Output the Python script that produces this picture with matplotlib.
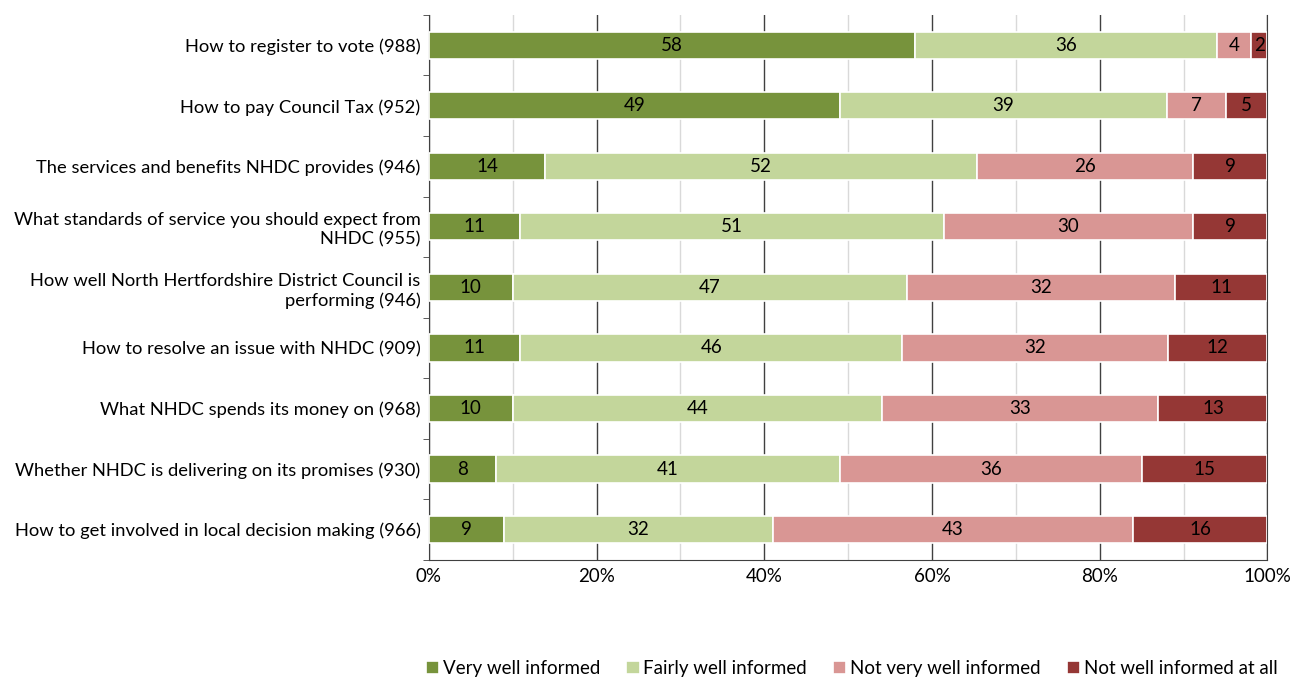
import numpy as np
import matplotlib.pyplot as plt

plt.rcParams['font.family'] = ['Lato', 'DejaVu Sans']

categories = [
    "How to register to vote (988)",
    "How to pay Council Tax (952)",
    "The services and benefits NHDC provides (946)",
    "What standards of service you should expect from\nNHDC (955)",
    "How well North Hertfordshire District Council is\nperforming (946)",
    "How to resolve an issue with NHDC (909)",
    "What NHDC spends its money on (968)",
    "Whether NHDC is delivering on its promises (930)",
    "How to get involved in local decision making (966)",
]
very_well = [58, 49, 14, 11, 10, 11, 10, 8, 9]
fairly_well = [36, 39, 52, 51, 47, 46, 44, 41, 32]
not_very = [4, 7, 26, 30, 32, 32, 33, 36, 43]
not_at_all = [2, 5, 9, 9, 11, 12, 13, 15, 16]

series = [very_well, fairly_well, not_very, not_at_all]
names = ["Very well informed", "Fairly well informed",
         "Not very well informed", "Not well informed at all"]
colors = ["#77933C", "#C3D69B", "#D99694", "#953735"]

data = np.array(series, dtype=float)
pct = data / data.sum(axis=0) * 100

fig = plt.figure(figsize=(12.92, 6.77), dpi=100)
ax = fig.add_axes([0.332, 0.173, 0.649, 0.805])

y = np.arange(len(categories))
left = np.zeros(len(categories))
for vals, p, name, c in zip(series, pct, names, colors):
    bars = ax.barh(y, p, left=left, height=0.45, color=c, edgecolor='white',
                   linewidth=1.2, label=name, zorder=3)
    ax.bar_label(bars, labels=[str(v) for v in vals], label_type='center',
                 fontsize=13.5, color='black')
    left += p

ax.set_xlim(0, 100)
ax.set_ylim(len(categories) - 0.5, -0.5)
ax.set_yticks(y)
ax.set_yticklabels(categories, fontsize=13.2, ha='right', linespacing=1.25)
ax.set_yticks(np.arange(len(categories) + 1) - 0.5, minor=True)
ax.tick_params(axis='y', which='major', length=0, pad=6)
ax.tick_params(axis='y', which='minor', length=4, color='#404040')

ax.set_xticks(np.arange(0, 101, 20))
ax.set_xticklabels([f"{v}%" for v in range(0, 101, 20)], fontsize=13.5)
ax.set_xticks(np.arange(10, 100, 20), minor=True)
ax.tick_params(axis='x', which='both', length=0, pad=6)
ax.grid(axis='x', which='major', color='#404040', linewidth=1, zorder=0)
ax.grid(axis='x', which='minor', color='#d9d9d9', linewidth=1, zorder=0)

ax.spines['top'].set_visible(False)
ax.spines['right'].set_color('#404040')
ax.spines['left'].set_color('#404040')
ax.spines['bottom'].set_color('#404040')

fig.legend(loc='lower right', bbox_to_anchor=(1.002, -0.025), ncol=4,
           fontsize=13.5, frameon=False, handlelength=0.7, handleheight=0.7,
           handletextpad=0.2, columnspacing=1.4)

fig.savefig('out.png', dpi=100)
